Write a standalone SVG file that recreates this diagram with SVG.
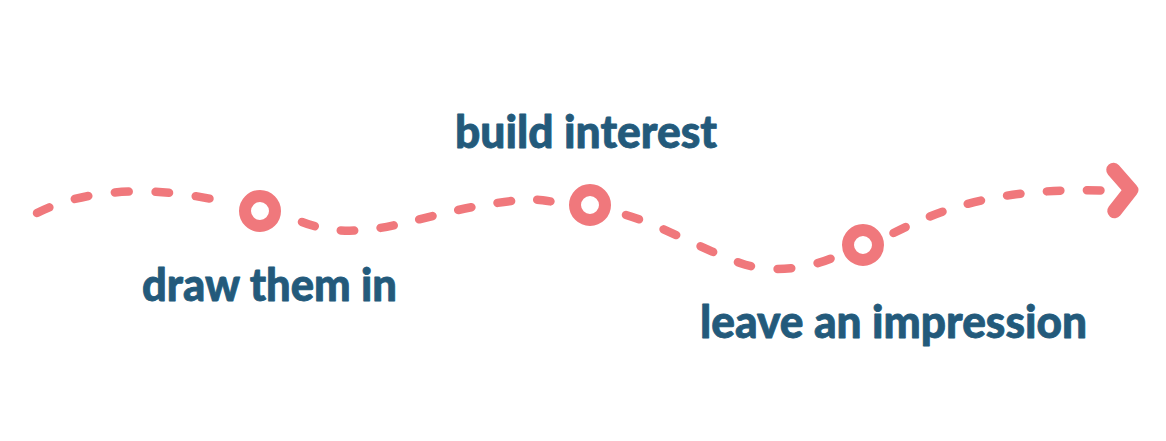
<svg xmlns="http://www.w3.org/2000/svg" width="1166" height="441" viewBox="0 0 1166 441">
<style>
.dash{fill:none;stroke:#f0787c;stroke-width:8.5;stroke-linecap:round;stroke-dasharray:13.5 26.5}
.node circle{fill:#ffffff;stroke:#f0787c;stroke-width:12}
.label{font-family:Lato,"Liberation Sans",sans-serif;font-weight:900;font-size:45px;fill:#235a7b;stroke:#235a7b;stroke-width:0.8;stroke-linejoin:round}
.head{fill:none;stroke:#f0787c;stroke-width:14.5;stroke-linecap:round;stroke-linejoin:round}
</style>
<rect width="1166" height="441" fill="#ffffff"/>
<g id="connectors">
<path class="dash" pathLength="174" d="M37,213 C72,195 130,183 210,198.7"/>
<path class="dash" pathLength="254" d="M302,222 C325,231 350,233 380,228 S450,210 490,204 S535,199 551,201.5"/>
<path class="dash" pathLength="214" d="M626,215 C660,225 700,248 740,263 C765,272 800,271 831,258.5"/>
<path class="dash" pathLength="214" d="M893.5,233 C945,207 1000,188 1101,190.5"/>
<path class="head" d="M1113.5,170 L1131,190 L1114.5,211"/>
</g>
<g id="node-1" class="node">
<circle cx="260" cy="211" r="15"/>
<text class="label" x="142" y="301" textLength="255" lengthAdjust="spacingAndGlyphs">draw them in</text>
</g>
<g id="node-2" class="node">
<circle cx="590" cy="205" r="15"/>
<text class="label" x="455" y="148" textLength="262" lengthAdjust="spacingAndGlyphs">build interest</text>
</g>
<g id="node-3" class="node">
<circle cx="863" cy="245" r="15"/>
<text class="label" x="700" y="338" textLength="387" lengthAdjust="spacingAndGlyphs">leave an impression</text>
</g>
</svg>
